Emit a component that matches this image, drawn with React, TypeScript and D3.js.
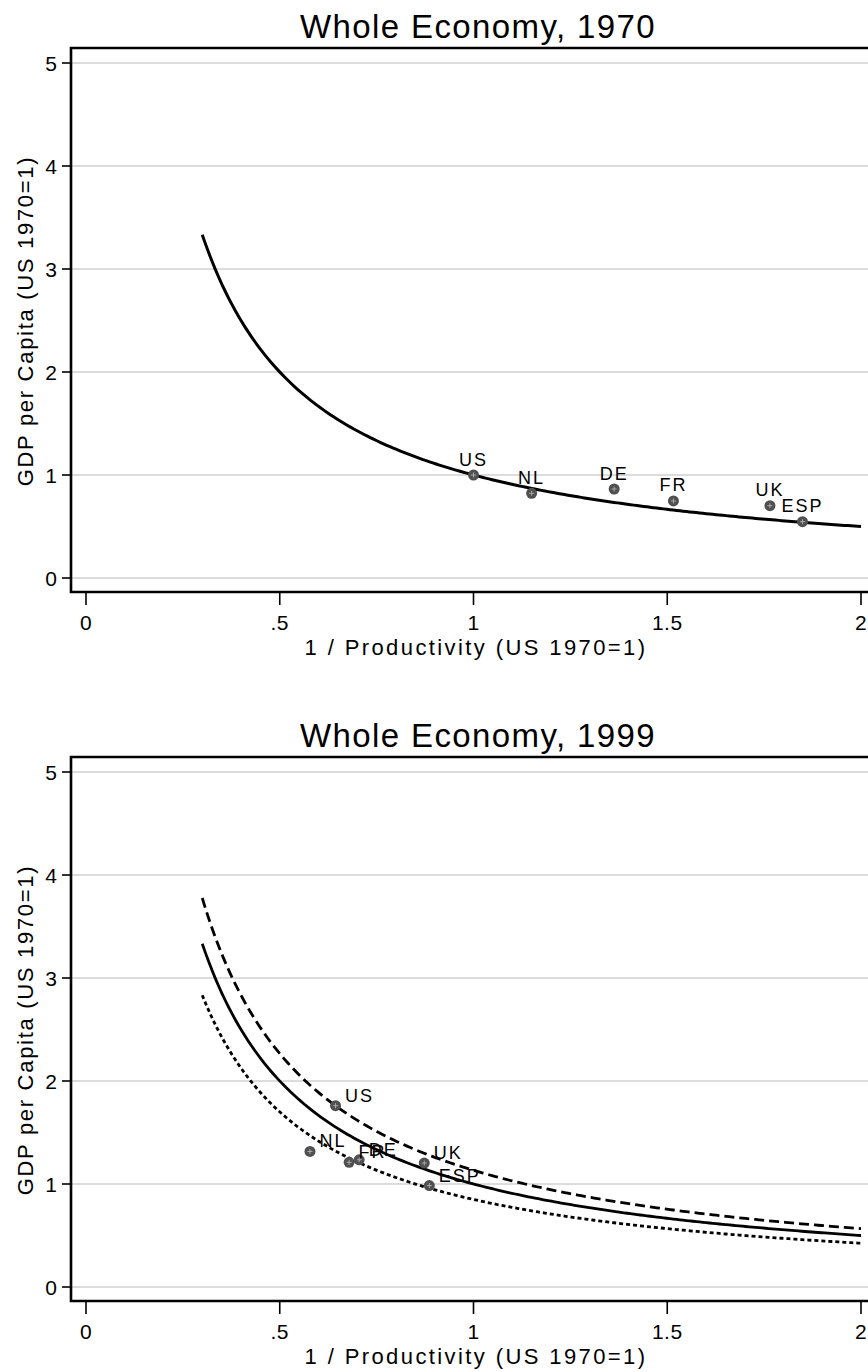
import React from "react";
import * as d3 from "d3";

// Panel contents
const titles = ["Whole Economy, 1970", "Whole Economy, 1999"];
const yAxisTitle = "GDP per Capita (US 1970=1)";
const xAxisTitle = "1 / Productivity (US 1970=1)";

// Axis ticks
const xTicks = [0, 0.5, 1, 1.5, 2];
const xTickLabels = ["0", ".5", "1", "1.5", "2"];
const yTicks = [0, 1, 2, 3, 4, 5];

// 1970 country points: x = 1 / productivity, y = GDP per capita
const countries1970 = ["US", "NL", "DE", "FR", "UK", "ESP"];
const invProd1970 = [1.0, 1.15, 1.363, 1.516, 1.765, 1.849];
const gdp1970 = [1.0, 0.822, 0.864, 0.748, 0.702, 0.547];

// 1999 country points
const countries1999 = ["US", "NL", "FR", "DE", "UK", "ESP"];
const invProd1999 = [0.644, 0.578, 0.679, 0.705, 0.873, 0.886];
const gdp1999 = [1.76, 1.316, 1.21, 1.235, 1.203, 0.985];

// Iso-curves y = k / x (k = employment ratio level)
const isoDomain = [0.3, 2];
const isoLevels1970 = [1.0];
const isoLevels1999 = [1.133, 1.0, 0.85];
const isoStyles1999 = ["dashed", "solid", "dotted"];

const FONT = "'Liberation Sans', Arial, Helvetica, sans-serif";
const PANEL_OFFSET = 709;

const dashFor = (s: string) =>
  s === "dashed" ? "10 5" : s === "dotted" ? "4 3" : undefined;

function isoPath(k: number, x: d3.ScaleLinear<number, number>, y: d3.ScaleLinear<number, number>) {
  const n = 200;
  const xs = d3.range(n + 1).map((i) => isoDomain[0] + ((isoDomain[1] - isoDomain[0]) * i) / n);
  const line = d3
    .line<number>()
    .x((v) => x(v))
    .y((v) => y(k / v));
  return line(xs) || "";
}

function Marker({ cx, cy }: { cx: number; cy: number }) {
  return (
    <g>
      <circle cx={cx} cy={cy} r={5.5} fill="#505050" />
      <line x1={cx - 2.5} x2={cx + 2.5} y1={cy} y2={cy} stroke="#a8a8a8" strokeWidth={1} />
      <line x1={cx} x2={cx} y1={cy - 2.5} y2={cy + 2.5} stroke="#a8a8a8" strokeWidth={1} />
    </g>
  );
}

function Panel({
  dy,
  title,
  names,
  xs,
  ys,
  levels,
  styles,
  labelSide,
}: {
  dy: number;
  title: string;
  names: string[];
  xs: number[];
  ys: number[];
  levels: number[];
  styles: string[];
  labelSide: "top" | "right";
}) {
  const x = d3.scaleLinear().domain([0, 2]).range([86, 861]);
  const y = d3.scaleLinear().domain([0, 5]).range([578, 63]);
  const frameLeft = 71;
  const frameTop = 48;
  const frameBottom = 592;
  const frameRight = 876;

  return (
    <g transform={`translate(0,${dy})`} fontFamily={FONT} fill="#000">
      <text x={478} y={38} fontSize={33} letterSpacing={1.4} textAnchor="middle">
        {title}
      </text>

      {yTicks.map((t) => (
        <line key={"g" + t} x1={frameLeft} x2={880} y1={y(t)} y2={y(t)} stroke="#dcdcdc" strokeWidth={2} />
      ))}

      {levels.map((k, i) => (
        <path
          key={"c" + i}
          d={isoPath(k, x, y)}
          fill="none"
          stroke="#000"
          strokeWidth={levels.length > 1 ? 2.8 : 3}
          strokeDasharray={dashFor(styles[i])}
        />
      ))}

      {names.map((n, i) => (
        <Marker key={"m" + n} cx={x(xs[i])} cy={y(ys[i])} />
      ))}
      {names.map((n, i) =>
        labelSide === "top" ? (
          <text key={"l" + n} x={x(xs[i])} y={y(ys[i]) - 9.5} fontSize={18} letterSpacing={2} textAnchor="middle">
            {n}
          </text>
        ) : (
          <text key={"l" + n} x={x(xs[i]) + 9.5} y={y(ys[i]) - 4} fontSize={18} letterSpacing={2}>
            {n}
          </text>
        )
      )}

      <path
        d={`M${frameRight},${frameTop}H${frameLeft}V${frameBottom}H${frameRight}`}
        fill="none"
        stroke="#000"
        strokeWidth={2.6}
      />

      {yTicks.map((t) => (
        <g key={"yt" + t}>
          <line x1={62} x2={frameLeft} y1={y(t)} y2={y(t)} stroke="#000" strokeWidth={1.6} />
          <text x={57} y={y(t) + 7.5} fontSize={21} textAnchor="end">
            {t}
          </text>
        </g>
      ))}
      {xTicks.map((t, i) => (
        <g key={"xt" + t}>
          <line x1={x(t)} x2={x(t)} y1={frameBottom} y2={605} stroke="#000" strokeWidth={1.6} />
          <text x={x(t)} y={630} fontSize={21} letterSpacing={0.5} textAnchor="middle">
            {xTickLabels[i]}
          </text>
        </g>
      ))}

      <text x={476} y={655} fontSize={22} letterSpacing={2.4} textAnchor="middle">
        {xAxisTitle}
      </text>
      <text
        transform={`translate(33,321) rotate(-90)`}
        fontSize={22}
        letterSpacing={1.7}
        textAnchor="middle"
      >
        {yAxisTitle}
      </text>
    </g>
  );
}

export default function App() {
  return (
    <svg
      width={868}
      height={1372}
      style={{ position: "absolute", left: 0, top: 0, background: "#fff" }}
    >
      <rect width={868} height={1372} fill="#fff" />
      <Panel
        dy={0}
        title={titles[0]}
        names={countries1970}
        xs={invProd1970}
        ys={gdp1970}
        levels={isoLevels1970}
        styles={["solid"]}
        labelSide="top"
      />
      <Panel
        dy={PANEL_OFFSET}
        title={titles[1]}
        names={countries1999}
        xs={invProd1999}
        ys={gdp1999}
        levels={isoLevels1999}
        styles={isoStyles1999}
        labelSide="right"
      />
    </svg>
  );
}
